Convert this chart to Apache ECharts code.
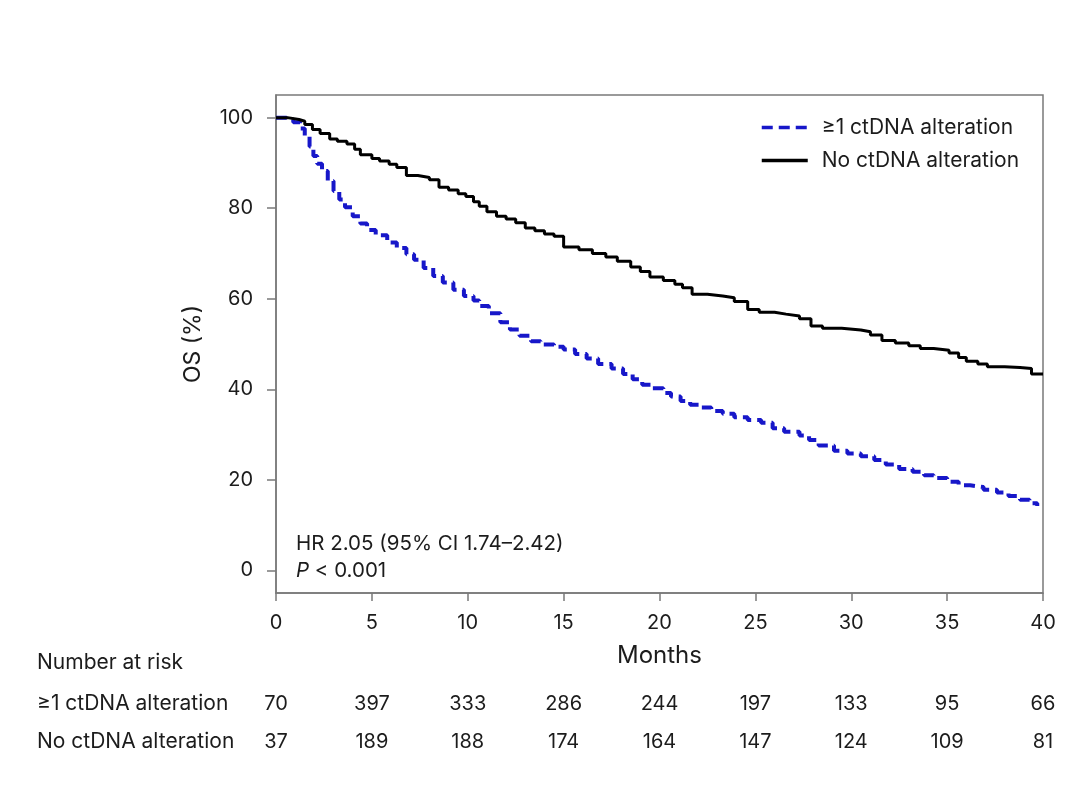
<!DOCTYPE html>
<html><head><meta charset="utf-8">
<script src="https://cdn.jsdelivr.net/npm/echarts@6/dist/echarts.min.js"></script>
<style>html,body{margin:0;padding:0;background:#fff}#c{width:1080px;height:805px}</style>
</head><body><div id="c"></div>
<script>
const groupNames = ['≥1 ctDNA alteration', 'No ctDNA alteration'];
const xTicks = [0, 5, 10, 15, 20, 25, 30, 35, 40];
const yTicks = [0, 20, 40, 60, 80, 100];
// Kaplan-Meier step points [month, OS %]
const altCurve = [[0,100],[0.5,99.6],[0.9,99.0],[1.25,97.6],[1.5,95.8],[1.75,93.6],[1.95,91.5],[2.15,89.8],[2.4,88.2],[2.7,86.0],[3.0,83.8],[3.3,81.9],[3.6,80.2],[4.0,78.2],[4.4,76.6],[4.75,75.2],[5.2,74.0],[5.8,72.4],[6.3,71.2],[6.8,69.8],[7.2,68.6],[7.7,66.8],[8.2,65.0],[8.7,63.6],[9.25,62.0],[9.8,60.6],[10.3,59.6],[10.6,58.4],[11.1,56.8],[11.7,54.8],[12.2,53.2],[12.7,51.8],[13.3,50.6],[13.8,49.9],[14.5,49.4],[15.0,48.8],[15.6,47.8],[16.2,46.8],[16.8,45.6],[17.5,44.6],[18.1,43.4],[18.6,42.2],[19.1,41.0],[19.6,40.2],[20.2,39.2],[20.6,38.4],[21.1,37.4],[21.6,36.6],[22.1,36.0],[22.7,35.2],[23.3,34.6],[23.9,33.8],[24.6,33.2],[25.3,32.6],[25.9,31.4],[26.5,30.6],[27.3,29.8],[27.8,28.8],[28.3,27.6],[29.1,26.4],[29.8,25.8],[30.5,25.2],[31.2,24.4],[31.8,23.4],[32.5,22.4],[33.2,21.8],[33.8,21.0],[34.3,20.4],[35.0,19.6],[35.6,18.8],[36.2,18.4],[36.9,17.8],[37.6,17.2],[38.2,16.4],[38.8,15.6],[39.3,14.8],[39.7,14.2]];
const noAltCurve = [[0,100],[0.6,99.6],[1.2,99.2],[1.5,98.5],[1.9,97.4],[2.3,96.5],[2.8,95.3],[3.2,94.8],[3.7,94.2],[4.1,93.0],[4.4,91.8],[5.0,91.0],[5.4,90.4],[5.9,89.7],[6.3,89.0],[6.8,87.2],[7.4,86.8],[8.0,86.3],[8.5,84.6],[9.0,84.0],[9.5,83.2],[9.9,82.6],[10.3,81.4],[10.6,80.4],[11.0,79.2],[11.5,78.2],[12.0,77.6],[12.5,76.8],[13.0,75.6],[13.5,75.0],[14.0,74.3],[14.5,73.8],[15.0,71.4],[15.8,70.8],[16.5,70.0],[17.2,69.2],[17.8,68.3],[18.5,67.0],[19.0,66.0],[19.5,64.8],[20.2,64.0],[20.8,63.2],[21.2,62.4],[21.7,61.0],[22.5,60.6],[23.3,60.2],[23.9,59.4],[24.6,57.6],[25.2,57.0],[26.0,56.6],[26.6,56.2],[27.3,55.6],[27.9,54.0],[28.5,53.5],[29.5,53.1],[30.5,52.7],[31.0,52.0],[31.6,50.8],[32.3,50.2],[33.0,49.6],[33.6,49.0],[34.3,48.6],[35.1,48.0],[35.6,47.0],[36.0,46.2],[36.6,45.6],[37.1,45.0],[38.0,44.8],[38.8,44.6],[39.4,43.4],[40,43.4]];
// Number at risk at each x tick
const riskAlt = [70, 397, 333, 286, 244, 197, 133, 95, 66];
const riskNoAlt = [37, 189, 188, 174, 164, 147, 124, 109, 81];

const FONT = 'Inter';
const TXT = '#1c1c1c';
const AX = '#7a7a7a';

function riskData(vals, row) {
  return vals.map((v, i) => ({ value: [xTicks[i], row, v] }));
}

const chart = echarts.init(document.getElementById('c'), null, { renderer: 'canvas' });
chart.setOption({
  animation: false,
  textStyle: { fontFamily: FONT, color: TXT },
  grid: [
    { left: 276, right: 37, top: 95, bottom: 212, show: true, borderColor: AX, borderWidth: 1.5, backgroundColor: 'transparent', containLabel: false },
    { left: 276, right: 37, top: 685, height: 76, show: false, containLabel: false }
  ],
  xAxis: [
    { type: 'value', gridIndex: 0, min: 0, max: 40, interval: 5,
      name: 'Months', nameLocation: 'middle', nameGap: 51,
      nameTextStyle: { fontSize: 24, color: TXT, fontFamily: FONT },
      axisLine: { show: true, onZero: false, lineStyle: { color: AX, width: 1.5 } },
      axisTick: { show: true, inside: false, length: 8, lineStyle: { color: AX, width: 1.5 } },
      axisLabel: { margin: 20, fontSize: 20, color: TXT, fontFamily: FONT },
      splitLine: { show: false } },
    { type: 'value', gridIndex: 1, min: 0, max: 40, show: false }
  ],
  yAxis: [
    { type: 'value', gridIndex: 0, min: -5, max: 105,
      name: 'OS (%)', nameLocation: 'middle', nameGap: 71, nameRotate: 90,
      nameTextStyle: { fontSize: 23, color: TXT, fontFamily: FONT },
      axisLine: { show: true, onZero: false, lineStyle: { color: AX, width: 1.5 } },
      axisTick: { show: true, inside: false, length: 9, customValues: yTicks, lineStyle: { color: AX, width: 1.5 } },
      axisLabel: { margin: 23, fontSize: 20, color: TXT, fontFamily: FONT, customValues: yTicks },
      splitLine: { show: false } },
    { type: 'category', gridIndex: 1, inverse: true, data: groupNames,
      axisLine: { show: false }, axisTick: { show: false }, splitLine: { show: false },
      axisLabel: { align: 'left', margin: 239, fontSize: 21, color: TXT, fontFamily: FONT } }
  ],
  legend: {
    orient: 'vertical', left: 760, top: 117, itemWidth: 46, itemHeight: 14, itemGap: 12,
    padding: 0,
    itemStyle: { opacity: 0 },
    lineStyle: { width: 3.5 },
    textStyle: { fontSize: 21, color: TXT, fontFamily: FONT, padding: [0, 0, 0, 9] },
    data: groupNames
  },
  series: [
    { name: groupNames[0], type: 'line', xAxisIndex: 0, yAxisIndex: 0, step: 'end', data: altCurve,
      showSymbol: false, symbol: 'none', color: '#1717c9',
      lineStyle: { color: '#1717c9', width: 4, type: [11, 6] } },
    { name: groupNames[1], type: 'line', xAxisIndex: 0, yAxisIndex: 0, step: 'end', data: noAltCurve,
      showSymbol: false, symbol: 'none', color: '#000',
      lineStyle: { color: '#000', width: 3 } },
    { type: 'scatter', xAxisIndex: 1, yAxisIndex: 1, symbolSize: 0, silent: true,
      itemStyle: { opacity: 1 },
      data: riskData(riskAlt, 0).concat(riskData(riskNoAlt, 1)),
      label: { show: true, position: 'inside', fontSize: 20, color: TXT, fontFamily: FONT,
        formatter: p => String(p.value[2]) } }
  ],
  graphic: [
    { type: 'text', left: 296, top: 533, style: { text: 'HR 2.05 (95% CI 1.74–2.42)', fontSize: 20.5, fill: TXT, fontFamily: FONT } },
    { type: 'text', left: 296, top: 560, style: { text: '{i|P} < 0.001', fontSize: 20.5, fill: TXT, fontFamily: FONT,
        rich: { i: { fontStyle: 'italic', fontSize: 20.5, fill: TXT, fontFamily: FONT } } } },
    { type: 'text', left: 37, top: 652, style: { text: 'Number at risk', fontSize: 21, fill: TXT, fontFamily: FONT } }
  ]
});
</script>
</body></html>
